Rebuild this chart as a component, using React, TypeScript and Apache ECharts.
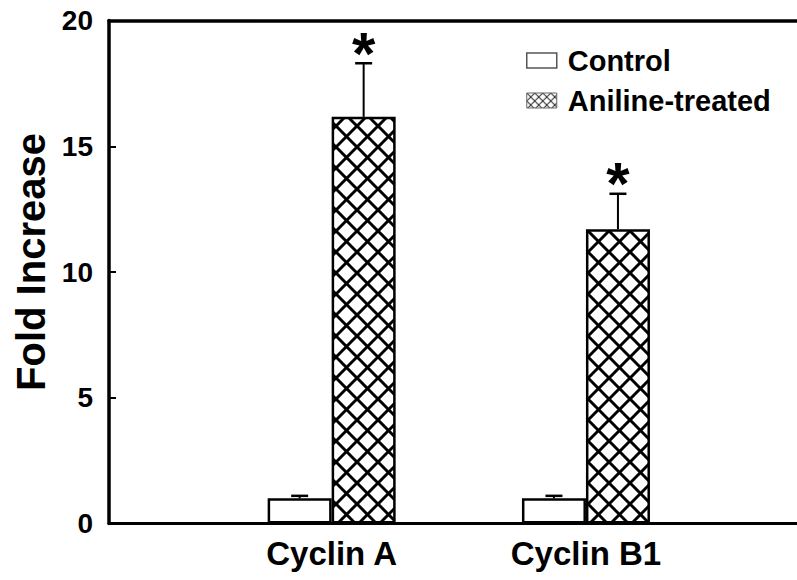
import React, { useEffect, useRef } from "react";
import * as echarts from "echarts";

const categories = ["Cyclin A", "Cyclin B1"];
const seriesNames = ["Control", "Aniline-treated"];
const controlValues = [1.0, 1.0];
const controlErrors = [0.1, 0.1];
const controlSignificant = [0, 0];
const anilineValues = [16.17, 11.7];
const anilineErrors = [2.13, 1.41];
const anilineSignificant = [1, 1];
const yMin = 0;
const yMax = 20;
const yInterval = 5;

const FONT = '"Liberation Sans", Arial, Helvetica, sans-serif';

function makeHatch(size: number, lw: number, color: string) {
  const c = document.createElement("canvas");
  c.width = size;
  c.height = size;
  const ctx = c.getContext("2d")!;
  ctx.fillStyle = "#fff";
  ctx.fillRect(0, 0, size, size);
  ctx.strokeStyle = color;
  ctx.lineWidth = lw;
  for (const dx of [-size, 0, size]) {
    ctx.beginPath();
    ctx.moveTo(dx, 0);
    ctx.lineTo(dx + size, size);
    ctx.stroke();
    ctx.beginPath();
    ctx.moveTo(dx + size, 0);
    ctx.lineTo(dx, size);
    ctx.stroke();
  }
  return c;
}

function makeErrorRender(offset: number) {
  return (params: any, api: any) => {
    const idx = api.value(0);
    const v = api.value(1);
    const e = api.value(2);
    const sig = api.value(3);
    const p0 = api.coord([idx, v]);
    const p1 = api.coord([idx, v + e]);
    const x = p0[0] + offset;
    const children: any[] = [
      { type: "line", shape: { x1: x, y1: p0[1], x2: x, y2: p1[1] }, style: { stroke: "#000", lineWidth: 2 } },
      { type: "line", shape: { x1: x - 8.5, y1: p1[1], x2: x + 8.5, y2: p1[1] }, style: { stroke: "#000", lineWidth: 2.5 } },
    ];
    if (sig) {
      children.push({
        type: "text",
        x: x,
        y: p1[1] - 10,
        style: { text: "*", font: `bold 60px ${FONT}`, fill: "#000", align: "center", verticalAlign: "middle" },
      });
    }
    return { type: "group", children };
  };
}

export default function App() {
  const ref = useRef<HTMLDivElement>(null);
  useEffect(() => {
    if (!ref.current) return;
    const chart = echarts.init(ref.current, undefined, { renderer: "svg" });
    const barPattern = { image: makeHatch(21, 3, "#000"), repeat: "repeat" };
    const iconPattern = { image: makeHatch(8, 1.1, "#333"), repeat: "repeat" };
    const gridTop = 20.5;
    const gridBottom = 56.5;
    const option: any = {
      animation: false,
      backgroundColor: "#fff",
      textStyle: { fontFamily: FONT },
      grid: [
        { left: 109, right: 0, top: gridTop, bottom: gridBottom },
        { left: 204.5, width: 508.6, top: gridTop, bottom: gridBottom },
      ],
      xAxis: [
        {
          type: "value", gridIndex: 0, min: 0, max: 1, position: "bottom",
          axisLine: { show: true, lineStyle: { color: "#000", width: 3 } },
          axisTick: { show: false }, axisLabel: { show: false }, splitLine: { show: false },
        },
        {
          type: "value", gridIndex: 0, min: 0, max: 1, position: "top",
          axisLine: { show: true, lineStyle: { color: "#000", width: 3.5 } },
          axisTick: { show: false }, axisLabel: { show: false }, splitLine: { show: false },
        },
        {
          type: "category", gridIndex: 1, data: categories,
          axisLine: { show: false }, axisTick: { show: false }, splitLine: { show: false },
          axisLabel: { color: "#000", fontSize: 33, fontWeight: "bold", margin: 13, fontFamily: FONT },
        },
      ],
      yAxis: [
        {
          type: "value", gridIndex: 0, min: yMin, max: yMax, interval: yInterval,
          name: "Fold Increase", nameLocation: "middle", nameGap: 54,
          nameTextStyle: { color: "#000", fontSize: 40, fontWeight: "bold", fontFamily: FONT, padding: [0, 0, 0, 20] },
          axisLine: { show: true, lineStyle: { color: "#000", width: 3.5 } },
          axisTick: { show: true, inside: true, length: 7, lineStyle: { color: "#000", width: 2 } },
          axisLabel: { color: "#000", fontSize: 28, fontWeight: "bold", margin: 16, fontFamily: FONT },
          splitLine: { show: false },
        },
        {
          type: "value", gridIndex: 1, min: yMin, max: yMax, interval: yInterval, show: false,
          splitLine: { show: false },
        },
      ],
      legend: {
        orient: "vertical", left: 521, top: 41, itemWidth: 30, itemHeight: 15, itemGap: 11,
        selectedMode: false,
        textStyle: { fontSize: 29, fontWeight: "bold", color: "#000", fontFamily: FONT, padding: [0, 0, 0, 6] },
        data: [
          { name: seriesNames[0], icon: "rect", itemStyle: { color: "#fff", borderColor: "#555", borderWidth: 1.5 } },
          { name: seriesNames[1], icon: "rect", itemStyle: { color: iconPattern, borderColor: "#666", borderWidth: 1 } },
        ],
      },
      series: [
        {
          type: "bar", name: seriesNames[0], xAxisIndex: 2, yAxisIndex: 1,
          data: controlValues, barWidth: 64, barGap: "0%",
          itemStyle: { color: "#fff", borderColor: "#000", borderWidth: 2.5 },
          silent: true,
        },
        {
          type: "bar", name: seriesNames[1], xAxisIndex: 2, yAxisIndex: 1,
          data: anilineValues, barWidth: 64, barGap: "0%",
          itemStyle: { color: barPattern, borderColor: "#000", borderWidth: 2.5 },
          silent: true,
        },
        {
          type: "custom", xAxisIndex: 2, yAxisIndex: 1, silent: true, z: 5,
          renderItem: makeErrorRender(-32),
          data: controlValues.map((v, i) => [i, v, controlErrors[i], controlSignificant[i]]),
        },
        {
          type: "custom", xAxisIndex: 2, yAxisIndex: 1, silent: true, z: 5,
          renderItem: makeErrorRender(32),
          data: anilineValues.map((v, i) => [i, v, anilineErrors[i], anilineSignificant[i]]),
        },
      ],
    };
    chart.setOption(option);
    return () => chart.dispose();
  }, []);
  return (
    <div
      ref={ref}
      style={{ position: "fixed", left: 0, top: 0, width: 797, height: 580, background: "#fff" }}
    />
  );
}
